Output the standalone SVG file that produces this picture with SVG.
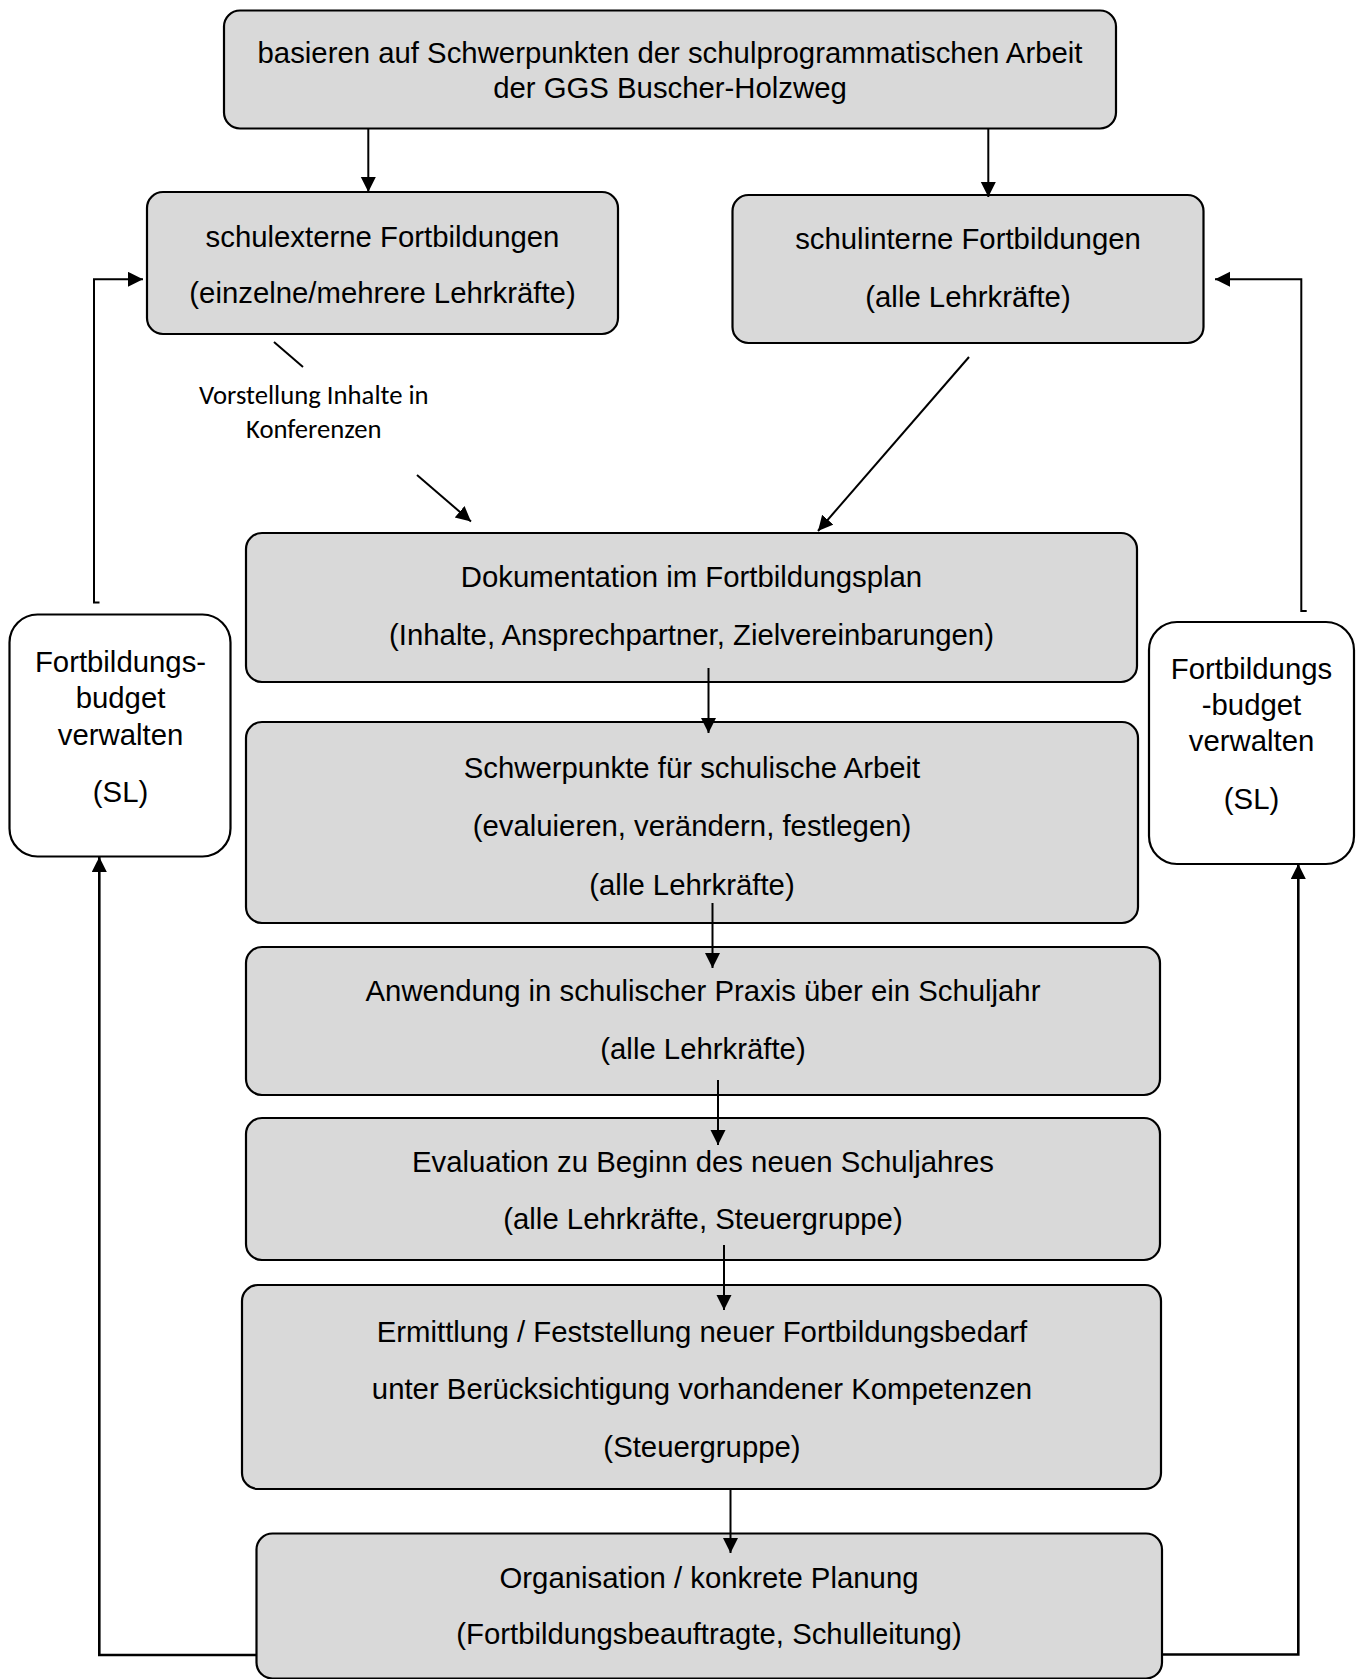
<svg xmlns="http://www.w3.org/2000/svg" width="1359" height="1679" viewBox="0 0 1359 1679">
<defs>
<style>
.box{fill:#d9d9d9;stroke:#000;stroke-width:2.2}
.wbox{fill:#fff;stroke:#000;stroke-width:2.2}
.t{font-family:"Liberation Sans",Arial,sans-serif;font-size:29.33px;fill:#000;text-anchor:middle}
.lbl{font-family:Carlito,Calibri,Lato,"Open Sans",sans-serif;font-size:26.7px;fill:#000;text-anchor:middle}
.c{fill:none;stroke:#000;stroke-width:2}
.cb{fill:none;stroke:#000;stroke-width:2.6}
</style>
<marker id="ah" markerUnits="userSpaceOnUse" markerWidth="16" markerHeight="16" viewBox="0 0 16 16" refX="15" refY="7.5" orient="auto">
<path d="M0,0 L15,7.5 L0,15 z" fill="#000"/>
</marker>
</defs>
<rect width="1359" height="1679" fill="#fff"/>

<g id="n-top">
<rect class="box" x="224" y="10.5" width="892" height="118" rx="16"/>
<text class="t" x="670" y="63">basieren auf Schwerpunkten der schulprogrammatischen Arbeit</text>
<text class="t" x="670" y="98">der GGS Buscher-Holzweg</text>
</g>

<g id="n-extern">
<rect class="box" x="147" y="192" width="471" height="142" rx="16"/>
<text class="t" x="382.5" y="247">schulexterne Fortbildungen</text>
<text class="t" x="382.5" y="303">(einzelne/mehrere Lehrkräfte)</text>
</g>

<g id="n-intern">
<rect class="box" x="732.5" y="195" width="471" height="148" rx="16"/>
<text class="t" x="968" y="249">schulinterne Fortbildungen</text>
<text class="t" x="968" y="307">(alle Lehrkräfte)</text>
</g>

<g id="n-label">
<text class="lbl" x="313.8" y="404">Vorstellung Inhalte in</text>
<text class="lbl" x="313.8" y="438">Konferenzen</text>
</g>

<g id="n-dok">
<rect class="box" x="246" y="533" width="891" height="149" rx="16"/>
<text class="t" x="691.5" y="587">Dokumentation im Fortbildungsplan</text>
<text class="t" x="691.5" y="645">(Inhalte, Ansprechpartner, Zielvereinbarungen)</text>
</g>

<g id="n-schwer">
<rect class="box" x="246" y="722" width="892" height="201" rx="16"/>
<text class="t" x="692" y="778">Schwerpunkte für schulische Arbeit</text>
<text class="t" x="692" y="836">(evaluieren, verändern, festlegen)</text>
<text class="t" x="692" y="895">(alle Lehrkräfte)</text>
</g>

<g id="n-anw">
<rect class="box" x="246" y="947" width="914" height="148" rx="16"/>
<text class="t" x="703" y="1001">Anwendung in schulischer Praxis über ein Schuljahr</text>
<text class="t" x="703" y="1059">(alle Lehrkräfte)</text>
</g>

<g id="n-eval">
<rect class="box" x="246" y="1118" width="914" height="142" rx="16"/>
<text class="t" x="703" y="1172">Evaluation zu Beginn des neuen Schuljahres</text>
<text class="t" x="703" y="1229">(alle Lehrkräfte, Steuergruppe)</text>
</g>

<g id="n-erm">
<rect class="box" x="242" y="1285" width="919" height="204" rx="16"/>
<text class="t" x="702" y="1341.5">Ermittlung / Feststellung neuer Fortbildungsbedarf</text>
<text class="t" x="702" y="1399">unter Berücksichtigung vorhandener Kompetenzen</text>
<text class="t" x="702" y="1457">(Steuergruppe)</text>
</g>

<g id="n-org">
<rect class="box" x="256.5" y="1533.5" width="905.5" height="145" rx="16"/>
<text class="t" x="709" y="1588">Organisation / konkrete Planung</text>
<text class="t" x="709" y="1644">(Fortbildungsbeauftragte, Schulleitung)</text>
</g>

<g id="n-budget-left">
<rect class="wbox" x="9.5" y="614.5" width="221" height="242" rx="28"/>
<text class="t" x="120.5" y="672">Fortbildungs-</text>
<text class="t" x="120.5" y="708">budget</text>
<text class="t" x="120.5" y="745">verwalten</text>
<text class="t" x="120.5" y="802">(SL)</text>
</g>

<g id="n-budget-right">
<rect class="wbox" x="1149" y="622" width="205" height="242" rx="28"/>
<text class="t" x="1251.5" y="679">Fortbildungs</text>
<text class="t" x="1251.5" y="715">-budget</text>
<text class="t" x="1251.5" y="751">verwalten</text>
<text class="t" x="1251.5" y="809">(SL)</text>
</g>

<g id="connectors">
<line class="c" x1="368.3" y1="128.5" x2="368.3" y2="192" marker-end="url(#ah)"/>
<line class="c" x1="988.3" y1="129" x2="988.3" y2="197" marker-end="url(#ah)"/>
<line class="c" x1="274" y1="342" x2="303" y2="367"/>
<line class="c" x1="417" y1="475" x2="471" y2="521.5" marker-end="url(#ah)"/>
<line class="c" x1="969" y1="357" x2="818" y2="531" marker-end="url(#ah)"/>
<line class="c" x1="708.5" y1="668" x2="708.5" y2="733" marker-end="url(#ah)"/>
<line class="c" x1="712.5" y1="903" x2="712.5" y2="968" marker-end="url(#ah)"/>
<line class="c" x1="718" y1="1080" x2="718" y2="1145" marker-end="url(#ah)"/>
<line class="c" x1="724" y1="1245" x2="724" y2="1310" marker-end="url(#ah)"/>
<line class="c" x1="730.5" y1="1490" x2="730.5" y2="1553" marker-end="url(#ah)"/>
<path class="c" d="M99.5,602.5 H94 V279.3 H143" marker-end="url(#ah)"/>
<path class="c" d="M1306.7,611 H1301.3 V279.3 H1215" marker-end="url(#ah)"/>
<path class="cb" d="M256.5,1655 H99.3 V857" marker-end="url(#ah)"/>
<path class="cb" d="M1162,1654.5 H1298.3 V864" marker-end="url(#ah)"/>
</g>
</svg>
